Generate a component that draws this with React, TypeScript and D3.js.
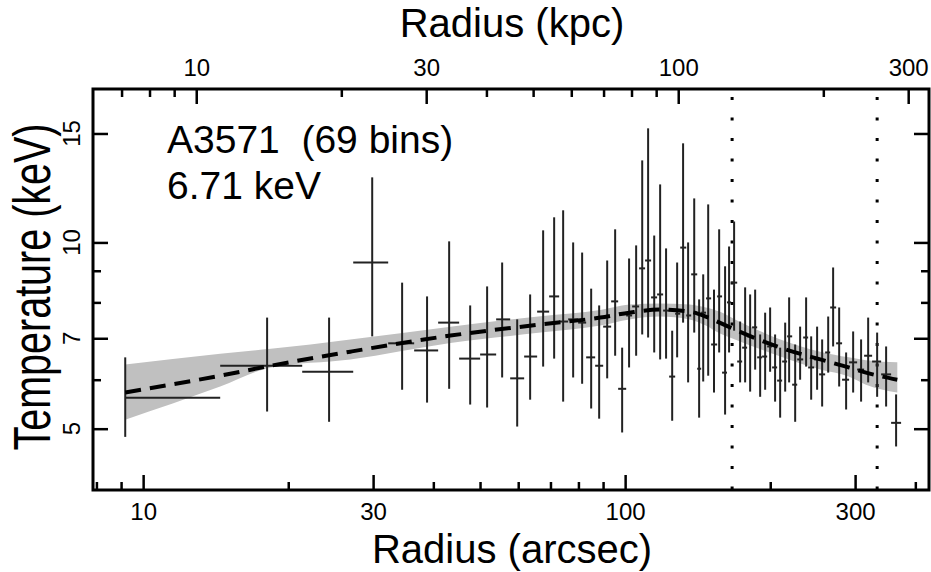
import React, { useRef, useEffect } from "react";
import * as d3 from "d3";

// annular bin edges (arcsec), 69 bins
const binEdges = [
  9.18, 14.45, 21.38, 27.28, 32.24, 36.5, 40.93, 45.25, 50.02, 54.0, 57.74,
  61.73, 65.68, 69.56, 72.96, 76.17, 79.89, 83.01, 86.66, 90.04, 93.54, 96.72,
  100.5, 103.4, 106.9, 110.0, 113.2, 116.5, 119.9, 123.4, 127.0, 130.1, 133.9,
  137.1, 141.1, 143.8, 147.2, 150.8, 155.2, 158.9, 162.7, 165.9, 170.8, 174.9,
  179.1, 183.4, 187.9, 192.4, 197.1, 201.8, 206.7, 211.7, 216.8, 222.1, 227.5,
  234.1, 239.7, 246.7, 252.6, 260.0, 266.3, 274.0, 281.9, 291.5, 302.9, 313.2,
  325.4, 339.7, 356.3, 373.7,
];
const radius = [
  9.18, 18.08, 24.31, 29.87, 34.46, 38.82, 43.14, 47.7, 51.72, 55.57, 59.71,
  63.52, 67.59, 71.24, 74.37, 78.01, 81.43, 85.02, 88.33, 91.78, 95.34, 98.58,
  101.9, 105.4, 108.5, 111.6, 114.9, 118.2, 121.6, 125.2, 128.2, 131.9, 135.1,
  139.1, 142.4, 145.2, 148.7, 152.9, 156.7, 161.2, 164.3, 168.3, 173.2, 177.4,
  181.7, 186.1, 190.6, 195.2, 199.9, 204.7, 209.7, 214.8, 218.9, 225.3, 230.7,
  237.4, 243.2, 250.2, 256.3, 263.8, 270.1, 278.0, 287.4, 297.2, 308.7, 319.3,
  333.3, 347.9, 364.9,
];
const kT = [
  5.61, 6.32, 6.18, 9.28, 6.87, 6.69, 7.42, 6.49, 6.59, 7.51, 6.03, 6.54, 7.73,
  8.18, 7.45, 7.51, 7.42, 6.52, 6.32, 7.31, 8.03, 5.8, 7.62, 7.88, 9.08, 9.35,
  8.15, 8.24, 7.76, 6.07, 7.67, 9.81, 7.62, 8.88, 6.25, 7.7, 8.12, 6.84, 8.18,
  6.16, 8.0, 8.61, 6.42, 6.76, 7.05, 7.29, 6.52, 6.54, 6.79, 6.28, 5.98, 6.42,
  7.05, 5.89, 6.47, 7.02, 6.28, 6.47, 6.12, 6.64, 7.85, 6.87, 6.0, 6.4, 6.23,
  6.56, 6.42, 6.12, 5.11,
];
const kTHigh = [
  6.52, 7.56, 7.56, 12.74, 8.61, 8.18, 10.04, 7.91, 8.49, 9.28, 7.51, 8.24,
  10.46, 10.98, 11.27, 10.0, 9.63, 8.42, 7.91, 9.35, 10.5, 6.76, 9.42, 9.89,
  13.57, 15.29, 10.26, 12.41, 9.78, 7.2, 9.28, 14.46, 10.0, 11.78, 8.09, 8.88,
  11.52, 8.39, 10.5, 9.15, 9.85, 10.81, 7.45, 8.46, 8.24, 8.39, 7.1, 7.7, 7.85,
  7.1, 6.76, 7.42, 8.15, 6.84, 7.31, 8.15, 7.05, 7.31, 6.97, 7.59, 9.11, 7.85,
  6.64, 7.18, 6.97, 7.56, 7.15, 6.79, 5.68,
];
const kTLow = [
  4.85, 5.33, 5.13, 7.05, 5.78, 5.51, 5.8, 5.47, 5.41, 6.05, 5.04, 5.57, 6.3,
  6.49, 5.53, 6.05, 5.91, 5.39, 5.19, 6.03, 6.56, 4.93, 6.28, 6.56, 7.1, 7.02,
  6.64, 6.47, 6.49, 5.15, 6.52, 7.42, 5.94, 7.15, 5.21, 5.96, 6.09, 5.72, 6.64,
  5.27, 6.64, 7.2, 5.94, 5.94, 5.74, 6.23, 5.63, 5.78, 6.18, 5.53, 5.21, 5.74,
  5.94, 5.13, 6.0, 6.3, 5.57, 5.78, 5.43, 6.16, 6.79, 5.85, 5.37, 5.72, 5.53,
  5.94, 5.63, 5.43, 4.68,
];

// smoothed model profile and its band
const modelRadius = [9.18, 14.45, 18.4, 26.9, 43.4, 66.8, 88.8, 102, 118, 136, 147, 157, 169, 210, 254, 291, 316, 367];
const modelKT = [5.72, 6.09, 6.32, 6.66, 7.07, 7.37, 7.56, 7.7, 7.79, 7.73, 7.59, 7.42, 7.23, 6.76, 6.47, 6.28, 6.16, 6.0];
const modelHigh = [6.35, 6.61, 6.73, 6.97, 7.31, 7.6, 7.78, 7.94, 7.97, 7.94, 7.85, 7.73, 7.51, 6.97, 6.66, 6.52, 6.45, 6.4];
const modelLow = [5.17, 5.85, 6.28, 6.47, 6.88, 7.15, 7.34, 7.51, 7.59, 7.51, 7.34, 7.13, 6.97, 6.54, 6.23, 6.07, 5.89, 5.72];

const boundaryRadii = [166.7, 333.3];

const arcsecTicks = [10, 30, 100, 300];
const arcsecMinor = [8, 9, 20, 40, 50, 60, 70, 80, 90, 200, 400];
const kpcTicks = [10, 30, 100, 300];
const kpcMinor = [7, 8, 9, 20, 40, 50, 60, 70, 80, 90, 200];
const kTTicks = [5, 7, 10, 15];
const kTMinor = [6, 8, 9];
const kpcPerArcsec = 0.776;

const FONT = "'Liberation Sans', Arial, Helvetica, sans-serif";

const App = () => {
  const chartRef = useRef<SVGSVGElement>(null);

  useEffect(() => {
    const left = 93, right = 929, top = 89, bottom = 490;
    const rMin = 7.87, rMax = 427;

    const x = d3.scaleLog().domain([rMin, rMax]).range([left, right]);
    const xKpc = d3.scaleLog().domain([rMin * kpcPerArcsec, rMax * kpcPerArcsec]).range([left, right]);
    const y = d3.scaleLog().domain([3.98, 17.7]).range([bottom, top]);

    const svg = d3.select(chartRef.current);
    svg.selectAll("*").remove();

    // model band
    const idx = d3.range(modelRadius.length);
    svg.append("path")
      .attr("d", d3.area<number>()
        .x((i) => x(modelRadius[i]))
        .y0((i) => y(modelLow[i]))
        .y1((i) => y(modelHigh[i]))
        .curve(d3.curveMonotoneX)(idx))
      .attr("fill", "#c0c0c0");

    // dotted boundaries
    svg.selectAll("line.bound")
      .data(boundaryRadii)
      .join("line")
      .attr("class", "bound")
      .attr("x1", (d) => x(d)).attr("x2", (d) => x(d))
      .attr("y1", top).attr("y2", bottom)
      .attr("stroke", "#000")
      .attr("stroke-width", 3)
      .attr("stroke-dasharray", "3 17.5")
      .attr("stroke-dashoffset", 12.5);

    // error bars
    const pts = d3.range(radius.length);
    const bars = svg.append("g").attr("stroke", "#222").attr("stroke-width", 2);
    bars.selectAll("line.v")
      .data(pts)
      .join("line")
      .attr("class", "v")
      .attr("x1", (i) => x(radius[i])).attr("x2", (i) => x(radius[i]))
      .attr("y1", (i) => y(kTLow[i])).attr("y2", (i) => y(kTHigh[i]));
    bars.selectAll("line.h")
      .data(pts)
      .join("line")
      .attr("class", "h")
      .attr("x1", (i) => x(binEdges[i])).attr("x2", (i) => x(binEdges[i + 1]))
      .attr("y1", (i) => y(kT[i])).attr("y2", (i) => y(kT[i]));

    // model line
    svg.append("path")
      .attr("d", d3.line<number>()
        .x((i) => x(modelRadius[i]))
        .y((i) => y(modelKT[i]))
        .curve(d3.curveMonotoneX)(idx))
      .attr("fill", "none")
      .attr("stroke", "#000")
      .attr("stroke-width", 4)
      .attr("stroke-dasharray", "16 9");

    // axes
    const addAxis = (axis: any, transform: string, values: number[], size: number, pad: number, labels: boolean) => {
      const g = svg.append("g")
        .attr("transform", transform)
        .call(axis.tickValues(values).tickSize(size).tickPadding(pad)
          .tickFormat(labels ? d3.format("d") : () => ""));
      g.select(".domain").remove();
      g.selectAll("line").attr("stroke", "#000").attr("stroke-width", 2.5);
      g.selectAll("text").attr("font-size", 24).attr("font-family", FONT).attr("fill", "#000");
      g.attr("font-family", FONT);
    };

    addAxis(d3.axisBottom(x), `translate(0,${bottom})`, arcsecTicks, -15, 13, true);
    addAxis(d3.axisBottom(x), `translate(0,${bottom})`, arcsecMinor, -8, 13, false);
    addAxis(d3.axisTop(xKpc), `translate(0,${top})`, kpcTicks, -15, 13, true);
    addAxis(d3.axisTop(xKpc), `translate(0,${top})`, kpcMinor, -8, 13, false);
    addAxis(d3.axisLeft(y), `translate(${left},0)`, kTTicks, -15, 10, false);
    addAxis(d3.axisLeft(y), `translate(${left},0)`, kTMinor, -8, 10, false);
    addAxis(d3.axisRight(y), `translate(${right},0)`, kTTicks, -15, 10, false);
    addAxis(d3.axisRight(y), `translate(${right},0)`, kTMinor, -8, 10, false);

    // rotated y tick labels
    svg.selectAll("text.ylab")
      .data(kTTicks)
      .join("text")
      .attr("class", "ylab")
      .attr("transform", (d) => `translate(80,${y(d)}) rotate(-90)`)
      .attr("text-anchor", "middle")
      .attr("font-family", FONT)
      .attr("font-size", 24)
      .text((d) => String(d));

    // frame
    svg.append("rect")
      .attr("x", left).attr("y", top)
      .attr("width", right - left).attr("height", bottom - top)
      .attr("fill", "none")
      .attr("stroke", "#000")
      .attr("stroke-width", 3);

    // titles
    const title = (t: string, tx: number, ty: number) =>
      svg.append("text")
        .attr("x", tx).attr("y", ty)
        .attr("text-anchor", "middle")
        .attr("font-family", FONT)
        .attr("font-size", 40)
        .text(t);
    title("Radius (kpc)", 512, 37);
    title("Radius (arcsec)", 512, 563);

    svg.append("text")
      .attr("transform", "translate(50,287) rotate(-90) scale(1,1.3)")
      .attr("text-anchor", "middle")
      .attr("font-family", FONT)
      .attr("font-size", 39.5)
      .text("Temperature (keV)");

    svg.append("text")
      .attr("x", 167).attr("y", 153)
      .attr("font-family", FONT)
      .attr("font-size", 39)
      .text("A3571\u00a0 (69 bins)");
    svg.append("text")
      .attr("x", 167).attr("y", 199)
      .attr("font-family", FONT)
      .attr("font-size", 39)
      .text("6.71 keV");
  }, []);

  return (
    <svg
      ref={chartRef}
      width={931}
      height={572}
      style={{ position: "absolute", left: 0, top: 0, background: "#fff" }}
    />
  );
};

export default App;
